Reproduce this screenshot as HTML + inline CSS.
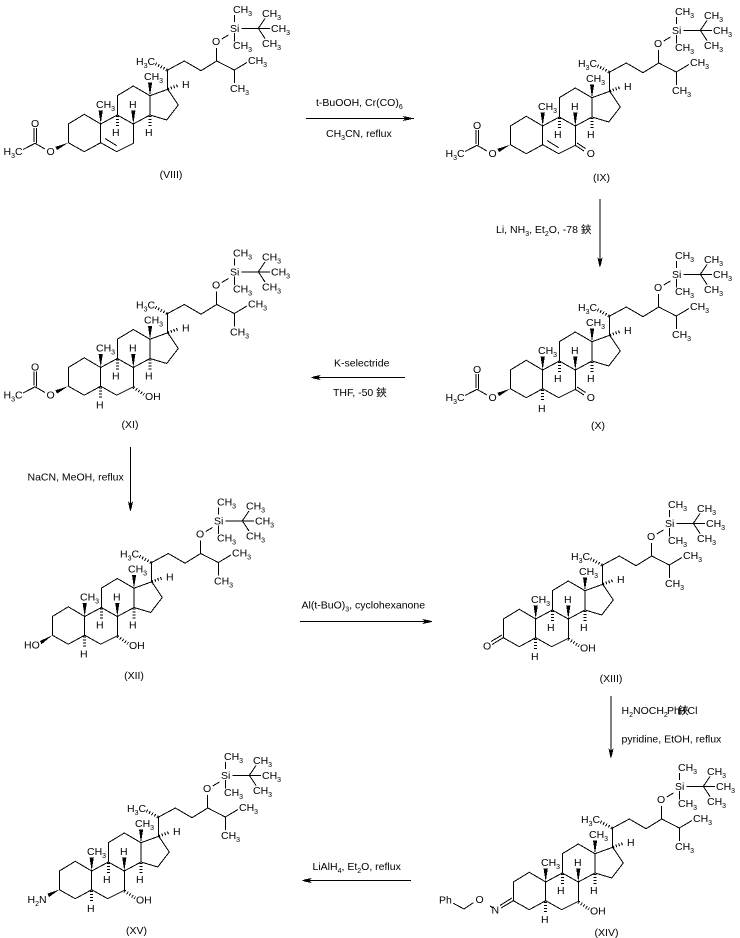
<!DOCTYPE html>
<html><head><meta charset="utf-8">
<style>
html,body{margin:0;padding:0;background:#fff}
svg{display:block}
text{font-family:"Liberation Sans","Noto Sans CJK SC",sans-serif;font-size:10.5px;fill:#000}
.s{font-size:7px}
.b{fill:none;stroke:#000;stroke-width:1}
.h{fill:none;stroke:#000;stroke-width:3;stroke-dasharray:1 2}
.w{fill:#000;stroke:none}
</style></head><body>
<svg width="740" height="938" viewBox="0 0 740 938" xmlns="http://www.w3.org/2000/svg" shape-rendering="crispEdges">
<defs>
<g id="core">
<path class="b" d="M68.3 142.7V124L84.3 114.3L100.7 124V142.7L84.3 151.7ZM100.7 124L117.3 115L133.3 124V143.3L116.7 151.7L100.7 142.7M117.3 115V95.7L133.3 86L150 95.7V115L133.3 124M150 115L166.7 120L178.3 105L167.7 89.3L150 95.7M167.7 89.3V70L184.3 61L201 70.7L216.7 61L234.3 70L247 62.5M234.3 70V83M216.7 61V48M221.7 39L228.5 35M234.3 22V15M234.3 33V41.7M241.7 28.3H270M258.3 28.3L265 18.5M258.3 28.3L265 38.5"/>
<path class="w" d="M150 95.7L148 82.5H152.2ZM100.7 124L98.6 110.5H102.8ZM133.3 124L131.2 110.5H135.4Z"/>
<path class="h" d="M117.3 116V127M150 116V127M168 89L178 85.5M167 70L155 63.5"/>
</g>
<g id="ac">
<path class="b" d="M23 149.5L35 143.3L45 149M34 142V128M36.5 143V128"/>
<path class="w" d="M68.3 142.7L55.5 146.8L57 150.2Z"/>
</g>
<g id="h5"><path class="h" d="M100.7 144V155"/></g>
<g id="oh7"><path class="h" d="M133.5 144L144 151"/></g>
<g id="co7"><path class="b" d="M133.5 143.5L142 149M135 141L143.5 146.500"/></g>
<g id="arrowR"><path class="w" d="M0 0L-3 -1L-10 -2.500L-8 0L-10 2.500L-3 1Z"/></g>
</defs>

<!-- VIII -->
<g transform="translate(0,0)">
<use href="#core"/><use href="#ac"/>
<path class="b" d="M105 138.5L116.7 145.7"/>
<text x="233" y="13">CH<tspan class="s" dy="3">3</tspan></text>
<text x="262" y="17">CH<tspan class="s" dy="3">3</tspan></text>
<text x="271" y="32">CH<tspan class="s" dy="3">3</tspan></text>
<text x="262" y="47">CH<tspan class="s" dy="3">3</tspan></text>
<text x="233" y="49">CH<tspan class="s" dy="3">3</tspan></text>
<text x="230" y="32">Si</text>
<text x="212" y="45">O</text>
<text x="136" y="65">H<tspan class="s" dy="3">3</tspan><tspan dy="-3">C</tspan></text>
<text x="248" y="64">CH<tspan class="s" dy="3">3</tspan></text>
<text x="230" y="92">CH<tspan class="s" dy="3">3</tspan></text>
<text x="144" y="80">CH<tspan class="s" dy="3">3</tspan></text>
<text x="182" y="88">H</text>
<text x="96" y="108">CH<tspan class="s" dy="3">3</tspan></text>
<text x="129" y="108">H</text>
<text x="112" y="136">H</text>
<text x="145" y="136">H</text>
<text x="31" y="127">O</text>
<text x="46.5" y="155">O</text>
<text x="3.5" y="155">H<tspan class="s" dy="3">3</tspan><tspan dy="-3">C</tspan></text>
</g>
<text x="171" y="178" text-anchor="middle">(VIII)</text>

<!-- IX -->
<g transform="translate(442,2)">
<use href="#core"/><use href="#ac"/>
<path class="b" d="M105 138.5L116.7 145.7"/>
<use href="#co7"/>
<text x="233" y="13">CH<tspan class="s" dy="3">3</tspan></text>
<text x="262" y="17">CH<tspan class="s" dy="3">3</tspan></text>
<text x="271" y="32">CH<tspan class="s" dy="3">3</tspan></text>
<text x="262" y="47">CH<tspan class="s" dy="3">3</tspan></text>
<text x="233" y="49">CH<tspan class="s" dy="3">3</tspan></text>
<text x="230" y="32">Si</text>
<text x="212" y="45">O</text>
<text x="136" y="65">H<tspan class="s" dy="3">3</tspan><tspan dy="-3">C</tspan></text>
<text x="248" y="64">CH<tspan class="s" dy="3">3</tspan></text>
<text x="230" y="92">CH<tspan class="s" dy="3">3</tspan></text>
<text x="144" y="80">CH<tspan class="s" dy="3">3</tspan></text>
<text x="182" y="88">H</text>
<text x="96" y="108">CH<tspan class="s" dy="3">3</tspan></text>
<text x="129" y="108">H</text>
<text x="112" y="136">H</text>
<text x="145" y="136">H</text>
<text x="31" y="127">O</text>
<text x="46.5" y="155">O</text>
<text x="3.5" y="155">H<tspan class="s" dy="3">3</tspan><tspan dy="-3">C</tspan></text>
<text x="144.7" y="155">O</text>
</g>
<text x="601.5" y="181" text-anchor="middle">(IX)</text>

<!-- X -->
<g transform="translate(442,246)">
<use href="#core"/><use href="#ac"/><use href="#h5"/><use href="#co7"/>
<text x="233" y="13">CH<tspan class="s" dy="3">3</tspan></text>
<text x="262" y="17">CH<tspan class="s" dy="3">3</tspan></text>
<text x="271" y="32">CH<tspan class="s" dy="3">3</tspan></text>
<text x="262" y="47">CH<tspan class="s" dy="3">3</tspan></text>
<text x="233" y="49">CH<tspan class="s" dy="3">3</tspan></text>
<text x="230" y="32">Si</text>
<text x="212" y="45">O</text>
<text x="136" y="65">H<tspan class="s" dy="3">3</tspan><tspan dy="-3">C</tspan></text>
<text x="248" y="64">CH<tspan class="s" dy="3">3</tspan></text>
<text x="230" y="92">CH<tspan class="s" dy="3">3</tspan></text>
<text x="144" y="80">CH<tspan class="s" dy="3">3</tspan></text>
<text x="182" y="88">H</text>
<text x="96" y="108">CH<tspan class="s" dy="3">3</tspan></text>
<text x="129" y="108">H</text>
<text x="112" y="136">H</text>
<text x="145" y="136">H</text>
<text x="31" y="127">O</text>
<text x="46.5" y="155">O</text>
<text x="3.5" y="155">H<tspan class="s" dy="3">3</tspan><tspan dy="-3">C</tspan></text>
<text x="144.7" y="155">O</text>
<text x="96" y="166">H</text>
</g>
<text x="598" y="429" text-anchor="middle">(X)</text>

<!-- XI -->
<g transform="translate(0,243.5)">
<use href="#core"/><use href="#ac"/><use href="#h5"/><use href="#oh7"/>
<text x="233" y="13">CH<tspan class="s" dy="3">3</tspan></text>
<text x="262" y="17">CH<tspan class="s" dy="3">3</tspan></text>
<text x="271" y="32">CH<tspan class="s" dy="3">3</tspan></text>
<text x="262" y="47">CH<tspan class="s" dy="3">3</tspan></text>
<text x="233" y="49">CH<tspan class="s" dy="3">3</tspan></text>
<text x="230" y="32">Si</text>
<text x="212" y="45">O</text>
<text x="136" y="65">H<tspan class="s" dy="3">3</tspan><tspan dy="-3">C</tspan></text>
<text x="248" y="64">CH<tspan class="s" dy="3">3</tspan></text>
<text x="230" y="92">CH<tspan class="s" dy="3">3</tspan></text>
<text x="144" y="80">CH<tspan class="s" dy="3">3</tspan></text>
<text x="182" y="88">H</text>
<text x="96" y="108">CH<tspan class="s" dy="3">3</tspan></text>
<text x="129" y="108">H</text>
<text x="112" y="136">H</text>
<text x="145" y="136">H</text>
<text x="31" y="127">O</text>
<text x="46.5" y="155">O</text>
<text x="3.5" y="155">H<tspan class="s" dy="3">3</tspan><tspan dy="-3">C</tspan></text>
<text x="145" y="156.5">OH</text>
<text x="96" y="165">H</text>
</g>
<text x="130" y="428" text-anchor="middle">(XI)</text>

<!-- XII -->
<g transform="translate(-16,492.5)">
<use href="#core"/><use href="#h5"/><use href="#oh7"/>
<path class="w" d="M68.3 142.7L56 148.5L57.5 151.8Z"/>
<text x="233" y="13">CH<tspan class="s" dy="3">3</tspan></text>
<text x="262" y="17">CH<tspan class="s" dy="3">3</tspan></text>
<text x="271" y="32">CH<tspan class="s" dy="3">3</tspan></text>
<text x="262" y="47">CH<tspan class="s" dy="3">3</tspan></text>
<text x="233" y="49">CH<tspan class="s" dy="3">3</tspan></text>
<text x="230" y="32">Si</text>
<text x="212" y="45">O</text>
<text x="136" y="65">H<tspan class="s" dy="3">3</tspan><tspan dy="-3">C</tspan></text>
<text x="248" y="64">CH<tspan class="s" dy="3">3</tspan></text>
<text x="230" y="92">CH<tspan class="s" dy="3">3</tspan></text>
<text x="144" y="80">CH<tspan class="s" dy="3">3</tspan></text>
<text x="182" y="88">H</text>
<text x="96" y="108">CH<tspan class="s" dy="3">3</tspan></text>
<text x="129" y="108">H</text>
<text x="112" y="136">H</text>
<text x="145" y="136">H</text>
<text x="40" y="156">HO</text>
<text x="145" y="156.5">OH</text>
<text x="96" y="165">H</text>
</g>
<text x="134" y="679" text-anchor="middle">(XII)</text>

<!-- XIII -->
<g transform="translate(435,495)">
<use href="#core"/><use href="#h5"/><use href="#oh7"/>
<path class="b" d="M68.3 142.7L57 149.5M67 140L56 146.5"/>
<text x="233" y="13">CH<tspan class="s" dy="3">3</tspan></text>
<text x="262" y="17">CH<tspan class="s" dy="3">3</tspan></text>
<text x="271" y="32">CH<tspan class="s" dy="3">3</tspan></text>
<text x="262" y="47">CH<tspan class="s" dy="3">3</tspan></text>
<text x="233" y="49">CH<tspan class="s" dy="3">3</tspan></text>
<text x="230" y="32">Si</text>
<text x="212" y="45">O</text>
<text x="136" y="65">H<tspan class="s" dy="3">3</tspan><tspan dy="-3">C</tspan></text>
<text x="248" y="64">CH<tspan class="s" dy="3">3</tspan></text>
<text x="230" y="92">CH<tspan class="s" dy="3">3</tspan></text>
<text x="144" y="80">CH<tspan class="s" dy="3">3</tspan></text>
<text x="182" y="88">H</text>
<text x="96" y="108">CH<tspan class="s" dy="3">3</tspan></text>
<text x="129" y="108">H</text>
<text x="112" y="136">H</text>
<text x="145" y="136">H</text>
<text x="48" y="154.5">O</text>
<text x="145" y="156.5">OH</text>
<text x="96" y="165">H</text>
</g>
<text x="611" y="682" text-anchor="middle">(XIII)</text>

<!-- XIV -->
<g transform="translate(445,758)">
<use href="#core"/><use href="#h5"/><use href="#oh7"/>
<path class="b" d="M68.3 142.7L56 150M67 140L55 147.5M45 148L48 150M28.3 144.7L19 151L8.3 145.3"/>
<text x="233" y="13">CH<tspan class="s" dy="3">3</tspan></text>
<text x="262" y="17">CH<tspan class="s" dy="3">3</tspan></text>
<text x="271" y="32">CH<tspan class="s" dy="3">3</tspan></text>
<text x="262" y="47">CH<tspan class="s" dy="3">3</tspan></text>
<text x="233" y="49">CH<tspan class="s" dy="3">3</tspan></text>
<text x="230" y="32">Si</text>
<text x="212" y="45">O</text>
<text x="136" y="65">H<tspan class="s" dy="3">3</tspan><tspan dy="-3">C</tspan></text>
<text x="248" y="64">CH<tspan class="s" dy="3">3</tspan></text>
<text x="230" y="92">CH<tspan class="s" dy="3">3</tspan></text>
<text x="144" y="80">CH<tspan class="s" dy="3">3</tspan></text>
<text x="182" y="88">H</text>
<text x="96" y="108">CH<tspan class="s" dy="3">3</tspan></text>
<text x="129" y="108">H</text>
<text x="112" y="136">H</text>
<text x="145" y="136">H</text>
<text x="46.5" y="155.5">N</text>
<text x="30.5" y="145">O</text>
<text x="-6" y="145.5">Ph</text>
<text x="145" y="156.5">OH</text>
<text x="96" y="165">H</text>
</g>
<text x="606.5" y="936" text-anchor="middle">(XIV)</text>

<!-- XV -->
<g transform="translate(-9,747)">
<use href="#core"/><use href="#h5"/><use href="#oh7"/>
<path class="w" d="M68.3 142.7L56.5 146.5L58 150Z"/>
<text x="233" y="13">CH<tspan class="s" dy="3">3</tspan></text>
<text x="262" y="17">CH<tspan class="s" dy="3">3</tspan></text>
<text x="271" y="32">CH<tspan class="s" dy="3">3</tspan></text>
<text x="262" y="47">CH<tspan class="s" dy="3">3</tspan></text>
<text x="233" y="49">CH<tspan class="s" dy="3">3</tspan></text>
<text x="230" y="32">Si</text>
<text x="212" y="45">O</text>
<text x="136" y="65">H<tspan class="s" dy="3">3</tspan><tspan dy="-3">C</tspan></text>
<text x="248" y="64">CH<tspan class="s" dy="3">3</tspan></text>
<text x="230" y="92">CH<tspan class="s" dy="3">3</tspan></text>
<text x="144" y="80">CH<tspan class="s" dy="3">3</tspan></text>
<text x="182" y="88">H</text>
<text x="96" y="108">CH<tspan class="s" dy="3">3</tspan></text>
<text x="129" y="108">H</text>
<text x="112" y="136">H</text>
<text x="145" y="136">H</text>
<text x="36.5" y="156">H<tspan class="s" dy="3">2</tspan><tspan dy="-3">N</tspan></text>
<text x="145" y="156.5">OH</text>
<text x="96" y="165">H</text>
</g>
<text x="136.5" y="934" text-anchor="middle">(XV)</text>

<!-- arrows -->
<path class="b" d="M306 118.5H414"/><use href="#arrowR" transform="translate(413,118.5)"/>
<path class="b" d="M600 199V266"/><use href="#arrowR" transform="translate(600,267.5) rotate(90)"/>
<path class="b" d="M405 377.5H312"/><use href="#arrowR" transform="translate(310.5,377.5) rotate(180)"/>
<path class="b" d="M130.5 447V510"/><use href="#arrowR" transform="translate(130.5,511.5) rotate(90)"/>
<path class="b" d="M300 621.5H431"/><use href="#arrowR" transform="translate(432.5,621.5)"/>
<path class="b" d="M611 696V757"/><use href="#arrowR" transform="translate(611,758.5) rotate(90)"/>
<path class="b" d="M411 880.5H303"/><use href="#arrowR" transform="translate(301.5,880.5) rotate(180)"/>

<!-- reagents -->
<text x="316" y="106">t-BuOOH, Cr(CO)<tspan class="s" dy="3">6</tspan></text>
<text x="326" y="137">CH<tspan class="s" dy="3">3</tspan><tspan dy="-3">CN, reflux</tspan></text>
<text x="496" y="233">Li, NH<tspan class="s" dy="3">3</tspan><tspan dy="-3">, Et</tspan><tspan class="s" dy="3">2</tspan><tspan dy="-3">O, -78 鋏</tspan></text>
<text x="334" y="366.5">K-selectride</text>
<text x="333" y="396">THF, -50 鋏</text>
<text x="27.5" y="480.5">NaCN, MeOH, reflux</text>
<text x="301.5" y="608.5">Al(t-BuO)<tspan class="s" dy="3">3</tspan><tspan dy="-3">, cyclohexanone</tspan></text>
<text x="621.5" y="714">H<tspan class="s" dy="3">2</tspan><tspan dy="-3">NOCH</tspan><tspan class="s" dy="3">2</tspan></text>
<text x="667" y="714">Ph</text>
<text x="678" y="714">鋏</text><text x="678" y="714">H</text><text x="687.5" y="714">Cl</text>
<text x="621.5" y="742.5">pyridine, EtOH, reflux</text>
<text x="312.5" y="870">LiAlH<tspan class="s" dy="3">4</tspan><tspan dy="-3">, Et</tspan><tspan class="s" dy="3">2</tspan><tspan dy="-3">O, reflux</tspan></text>
</svg>
</body></html>
